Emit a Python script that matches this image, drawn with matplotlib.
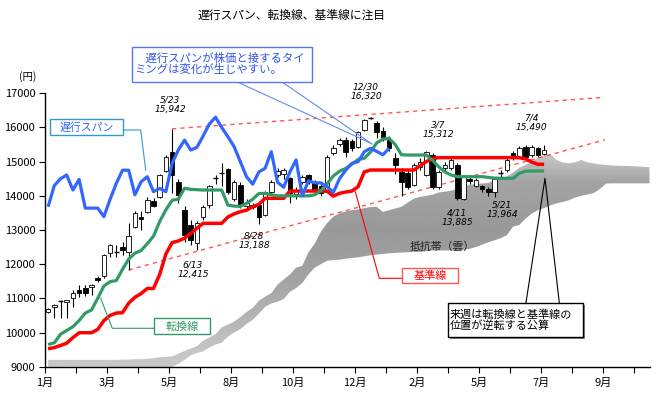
import numpy as np
import matplotlib
matplotlib.use('Agg')
import matplotlib.pyplot as plt
from matplotlib.patches import Rectangle, PathPatch
from matplotlib.lines import Line2D

plt.rcParams['font.family'] = ['Noto Sans CJK JP', 'DejaVu Sans']

# weekly candles (one per week, left to right)
opens = [10600, 10740, 10880, 10900, 11000, 11240, 11310, 11320, 11590, 11660,
         12340, 12360, 12510, 12360, 13100, 13370, 13540, 13850, 13960, 14740,
         15290, 14410, 13580, 13150, 12610, 13390, 13730, 14500, 14650, 14780,
         13900, 14320, 13700, 13720, 13730, 13440, 14120, 14620, 14640, 14510,
         14050, 14400, 14610, 14400, 14300, 14120, 15240, 15510, 15640, 15600,
         15440, 15930, 16280, 16120, 15900, 15630, 15100, 14700, 14670, 14320,
         14840, 14610, 15190, 14270, 14800, 14800, 14900, 13900, 14480, 14290,
         14290, 14190, 14120, 14640, 14760, 15250, 15130, 15437, 15194, 15390,
         15215]
highs = [10720, 10840, 10950, 10960, 11240, 11400, 11400, 11430, 11650, 12310,
         12600, 12560, 12650, 13200, 13560, 13560, 13960, 13950, 14650, 15200,
         15942, 14500, 13700, 13300, 13250, 13730, 14330, 14600, 14950, 14800,
         14470, 14400, 13900, 13800, 13800, 14150, 14450, 14800, 14820, 14560,
         14250, 14620, 14650, 14450, 14350, 15200, 15500, 15700, 15730, 15650,
         15900, 16260, 16320, 16180, 16000, 15750, 15250, 14800, 14750, 14950,
         15100, 15312, 15250, 14750, 15000, 15100, 14950, 14600, 14550, 14520,
         14330, 14250, 14520, 14750, 15100, 15300, 15450, 15480, 15480, 15440,
         15490]
lows = [10560, 10420, 10420, 10420, 10750, 11050, 11080, 11100, 11480, 11600,
        12220, 12200, 12280, 11830, 13050, 13000, 13500, 13660, 13950, 14700,
        14080, 13800, 12650, 12560, 12415, 13300, 13650, 14360, 14300, 14050,
        13850, 13650, 13650, 13600, 13188, 13400, 14080, 14550, 14500, 13800,
        13900, 14350, 14350, 14100, 14000, 14100, 15200, 15450, 15150, 15300,
        15400, 15900, 16250, 15700, 15600, 15300, 14650, 14000, 14200, 14300,
        14750, 14580, 14200, 14200, 14700, 14750, 13885, 13885, 14350, 14250,
        14100, 14000, 13964, 14550, 14700, 15050, 15100, 15100, 15150, 15150,
        15200]
closes = [10690, 10800, 10910, 10940, 11160, 11150, 11170, 11380, 11540, 12270,
          12560, 12370, 12410, 12830, 13490, 13310, 13880, 13690, 14610, 15150,
          14610, 14020, 12850, 12710, 13200, 13680, 14290, 14520, 14660, 14120,
          14410, 13730, 13780, 13660, 13390, 14120, 14410, 14720, 14760, 14070,
          14150, 14540, 14410, 14150, 14080, 15150, 15390, 15640, 15290, 15400,
          15880, 16220, 16291, 15880, 15730, 15390, 14900, 14410, 14270, 14900,
          15000, 15290, 14270, 14700, 14900, 15060, 13930, 14560, 14420, 14460,
          14190, 14120, 14480, 14660, 15050, 15130, 15400, 15145, 15437, 15194,
          15340]

# 転換線
tenkan = [9650, 9700, 9950, 10060, 10170, 10350, 10570, 10660, 11000, 11360,
          11490, 11520, 11850, 12150, 12320, 12400, 12600, 12820, 13250, 13590,
          13870, 13900, 14220, 14190, 14180, 14170, 14170, 14170, 14170, 13730,
          13700, 13690, 13780, 13900, 14070, 14070, 14030, 14000, 14000, 14000,
          14000, 14000, 14000, 14030, 14150, 14350, 14580, 14720, 14800, 14930,
          15060, 15100, 15280, 15550, 15660, 15680, 15500, 15200, 15194, 15194,
          15194, 15194, 15040, 14850, 14700, 14610, 14560, 14560, 14560, 14560,
          14560, 14540, 14520, 14512, 14512, 14512, 14660, 14720, 14726, 14726,
          14726]

# 基準線
kijun = [9525, 9560, 9620, 9690, 9850, 9994, 9994, 9994, 10090, 10350,
         10500, 10570, 10580, 10860, 11030, 11140, 11290, 11290, 11700, 12300,
         12630, 12680, 12760, 12900, 13050, 13195, 13195, 13195, 13195, 13380,
         13470, 13536, 13580, 13680, 13750, 13927, 13927, 13927, 13927, 14140,
         14140, 14140, 14140, 14140, 14140, 14140, 13990, 14073, 14110, 14140,
         14267, 14700, 14755, 14755, 14755, 14755, 14755, 14755, 14755, 14755,
         14880, 15000, 15090, 15117, 15117, 15117, 15117, 15117, 15117, 15117,
         15117, 15117, 15117, 15117, 15117, 15117, 15117, 15080, 14990, 14922,
         14922]

# 遅行スパン
chikou = [13680, 14300, 14500, 14610, 14170, 14480, 13640, 13640, 13640, 13390,
          13900, 14365, 14750, 14750, 14030, 14410, 14560, 14120, 14220, 14120,
          14950, 15340, 15630, 15340, 15420, 15750, 16100, 16300, 16000, 15730,
          15440, 15000, 14560, 14340, 14700, 14805, 15290, 14400, 14250, 14700,
          15050, 14000, 14440, 14380, 14380, 14270, 14100, 14500, 14750, 14950,
          15000, 15290, 15390, 15300, 15200, 15390]

# 抵抗帯（雲）
cloud_top = [9200, 9200, 9200, 9200, 9200, 9200, 9200, 9200, 9200, 9200,
             9200, 9200, 9210, 9210, 9220, 9220, 9230, 9250, 9280, 9290,
             9300, 9380, 9460, 9530, 9600, 9760, 9850, 9950, 10150, 10230,
             10320, 10450, 10600, 10720, 10930, 11050, 11150, 11400, 11550, 11700,
             11900, 11950, 12350, 12600, 12950, 13200, 13390, 13490, 13540, 13580,
             13600, 13640, 13670, 13680, 13530, 13580, 13630, 13680, 13800, 13920,
             13970, 14000, 14030, 14100, 14120, 14150, 14200, 14280, 14320, 14350,
             14360, 14380, 14450, 14530, 14560, 14680, 14820, 14900, 15000, 15110,
             15180, 15230, 15050, 14980, 14950, 14980, 15050, 14980, 14950, 14920,
             14900, 14890, 14880, 14875, 14870, 14860, 14850, 14835]
cloud_bottom = [9000, 9000, 9000, 9000, 9000, 9000, 9000, 9000, 9000, 9000,
                8990, 8980, 8960, 8950, 8850, 8830, 8830, 8840, 8850, 8920,
                9000, 9080, 9200, 9330, 9400, 9450, 9560, 9650, 9700, 9880,
                10000, 10100, 10250, 10370, 10550, 10750, 10850, 10900, 10980, 11190,
                11300, 11450, 11700, 11900, 12000, 12100, 12120, 12130, 12160, 12180,
                12200, 12230, 12260, 12280, 12300, 12320, 12330, 12340, 12350, 12360,
                12360, 12380, 12400, 12400, 12400, 12400, 12400, 12420, 12450, 12500,
                12570, 12640, 12700, 12760, 12850, 13100, 13150, 13330, 13480, 13580,
                13640, 13720, 13780, 13820, 13870, 13950, 14000, 14040, 14080, 14200,
                14360, 14365, 14365, 14365, 14365, 14365, 14365, 14365]

# trend lines: (week, value)
trend_upper = ([20, 89.6], [15960, 16880])
trend_lower = ([13, 89.8], [11830, 15640])

month_labels = ['1月', '3月', '5月', '8月', '10月', '12月', '2月', '5月', '7月', '9月']

# italic high/low notes: text, pixel x, pixel y
notes = [
    ('5/23\n15,942', 170, 105),
    ('12/30\n16,320', 366, 92),
    ('3/7\n15,312', 438, 130),
    ('7/4\n15,490', 531, 123),
    ('6/13\n12,415', 193, 270),
    ('8/28\n13,188', 254, 241),
    ('4/11\n13,885', 457, 218),
    ('5/21\n13,964', 502, 210),
]

W, H = 660, 396


def fx(x):
    return x / W


def fy(y):
    return 1 - y / H


fig = plt.figure(figsize=(W / 100, H / 100), dpi=100)
ax = fig.add_axes([fx(45), fy(366.7), (650 - 45) / W, (366.7 - 93.3) / H])

n = len(closes)
wk = np.arange(n)

# cloud with vertical gradient
cx = np.arange(len(cloud_top))
poly = ax.fill_between(cx, cloud_bottom, cloud_top, facecolor='none', edgecolor='none')
patch = PathPatch(poly.get_paths()[0], transform=ax.transData, facecolor='none', edgecolor='none')
ax.add_patch(patch)
lv = np.linspace(8500, 16000, 300)
shade = np.interp(lv, [8500, 9500, 11500, 13000, 14400, 15300, 16000],
                  [0.80, 0.77, 0.64, 0.60, 0.64, 0.80, 0.82])
im = ax.imshow(np.repeat(shade[:, None], 2, axis=1), extent=[-0.5, 98, 8500, 16000],
               origin='lower', aspect='auto', cmap='gray', vmin=0, vmax=1, zorder=1)
im.set_clip_path(patch)

# dashed trend lines
ax.plot(*trend_upper, color='#ff5555', lw=1.0, ls=(0, (3, 3)), zorder=2)
ax.plot(*trend_lower, color='#ff5555', lw=1.0, ls=(0, (3, 3)), zorder=2)

# candles
ax.vlines(wk, lows, highs, color='black', lw=0.8, zorder=3)
for i in range(n):
    o, c = opens[i], closes[i]
    if abs(c - o) < 40:
        ax.hlines(c, i - 0.38, i + 0.38, color='black', lw=1.0, zorder=4)
        continue
    fc = 'white' if c > o else 'black'
    ax.add_patch(Rectangle((i - 0.36, min(o, c)), 0.72, abs(c - o), facecolor=fc,
                           edgecolor='black', lw=0.6, zorder=4))

# ichimoku lines
ax.plot(np.arange(len(kijun)), kijun, color='#ff0000', lw=2.5, zorder=5, solid_capstyle='butt')
ax.plot(np.arange(len(tenkan)), tenkan, color='#339966', lw=2.3, zorder=6, solid_capstyle='butt')
ax.plot(np.arange(len(chikou)), chikou, color='#3366ff', lw=2.3, zorder=7, solid_capstyle='butt')

ax.set_xlim(-0.5, -0.5 + 605 / 6.2)
ax.set_ylim(9000, 17000)
ax.set_yticks(range(9000, 17001, 1000))
ax.set_xticks([-0.5 + 5 * k for k in range(20)])
ax.set_xticklabels([month_labels[k // 2] if k % 2 == 0 else '' for k in range(20)])
ax.tick_params(axis='both', direction='out', length=4, width=0.8, labelsize=8, colors='black')
ax.tick_params(axis='x', pad=4)
ax.tick_params(axis='y', pad=3)
for s in ['top', 'right']:
    ax.spines[s].set_visible(False)
for s in ['left', 'bottom']:
    ax.spines[s].set_linewidth(1.0)

# title and unit
fig.text(fx(292), fy(15), '遅行スパン、転換線、基準線に注目', ha='center', va='center', fontsize=8.5)
fig.text(fx(28), fy(77), '(円)', ha='center', va='center', fontsize=7.5)

# italic notes
for txt, x, y in notes:
    fig.text(fx(x), fy(y), txt, ha='center', va='center', fontsize=6.5, style='italic',
             family='DejaVu Sans', linespacing=1.05)


def line(xs, ys, color, lw=0.8):
    fig.add_artist(Line2D([fx(v) for v in xs], [fy(v) for v in ys], color=color, lw=lw,
                          transform=fig.transFigure, zorder=8))


def box(x0, y0, x1, y1, edge, lw=1.0):
    fig.add_artist(Rectangle((fx(x0), fy(y1)), fx(x1) - fx(x0), fy(y0) - fy(y1),
                             transform=fig.transFigure, facecolor='white', edgecolor=edge,
                             lw=lw, zorder=9))


# label boxes with connectors
line([123, 140.7, 145.7], [130, 130, 170], '#3399cc')
box(50, 119.3, 123, 135, '#3399cc')
fig.text(fx(86.5), fy(127.5), '遅行スパン', ha='center', va='center', fontsize=7.8,
         color='#3366ff', zorder=10)

line([100.7, 112.3, 154], [298.3, 328.3, 328.3], '#339966')
box(154, 318, 210, 334, '#339966')
fig.text(fx(182), fy(326.5), '転換線', ha='center', va='center', fontsize=8,
         color='#339966', zorder=10)

line([355.3, 379.3, 402], [191.7, 278.3, 278.3], '#ff0000')
box(402, 268, 458, 283, '#ff5555')
fig.text(fx(430), fy(276), '基準線', ha='center', va='center', fontsize=8,
         color='#ff0000', zorder=10)

fig.text(fx(410), fy(246.5), '抵抗帯（雲）', ha='left', va='center', fontsize=7.8,
         color='#222222', zorder=10)

# top callout
line([236.7, 371], [81.7, 143.3], '#6688ee')
line([281.7, 372], [81.7, 144], '#6688ee')
box(131.7, 46.7, 311.7, 81.7, '#5577ee')
fig.text(fx(134), fy(64), '\u3000遅行スパンが株価と接するタイ\nミングは変化が生じやすい。',
         ha='left', va='center', fontsize=8.2, color='#3355ee', linespacing=1.0, zorder=10)

# bottom callout
line([526, 545, 559.3], [302.7, 178.3, 302.7], 'black')
fig.add_artist(Rectangle((fx(449.7), fy(339.3)), fx(582.7) - fx(447.7), fy(302.7) - fy(337.3),
                         transform=fig.transFigure, facecolor='#888888', edgecolor='none',
                         zorder=8.5))
box(447.7, 302.7, 582.7, 337.3, 'black')
fig.text(fx(450), fy(320), '来週は転換線と基準線の\n位置が逆転する公算', ha='left', va='center',
         fontsize=8, color='black', linespacing=1.05, zorder=10)

fig.savefig('out.png', dpi=100)
